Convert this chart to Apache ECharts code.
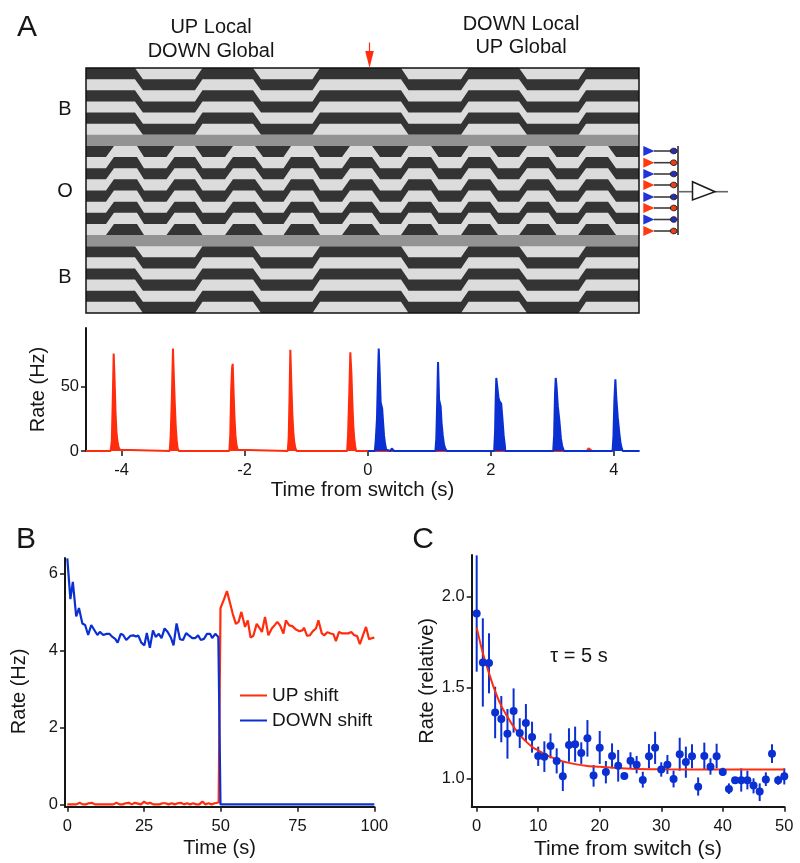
<!DOCTYPE html>
<html><head><meta charset="utf-8">
<style>html,body{margin:0;padding:0;background:#fff}#c{width:800px;height:863px}</style>
<script src="https://cdn.jsdelivr.net/npm/echarts@6/dist/echarts.min.js"></script>
</head><body><div id="c"></div>
<script>
// ---------- Panel A stimulus: times (s) where the stripes begin/end a shift ----------
const globalRamps=[-3.784,-3.654,-2.808,-2.686,-1.865,-1.735,-0.898,-0.776,0.541,0.663,1.517,1.639,2.460,2.590,3.428,3.550];
const localRamps=[-4.255,-4.125,-3.751,-3.637,-3.271,-3.141,-2.808,-2.686,-2.320,-2.190,-1.833,-1.702,-1.369,-1.247,-0.889,-0.776,-0.418,-0.288,0.070,0.200,0.541,0.663,1.029,1.151,1.517,1.639,1.989,2.119,2.460,2.590,2.940,3.070,3.420,3.550,3.907,4.037];
const timeMin=-4.58, timeMax=4.41;
// row ranges of the stimulus zones and the shift direction of each
const zoneFrom=[0,7,16], zoneTo=[6,15,22], zoneDir=[1,-1,1];
const grayFrom=[6,15];
// ---------- Panel A firing rate: [time, rate] ----------
const spikeRed=[[-4.58,0],[-4.18,0],[-4.16,8],[-4.145,40],[-4.13,76],[-4.115,55],[-4.10,30],[-4.085,15],[-4.07,8],[-4.05,3],[-4.03,1],[-4.00,0],
[-3.22,0],[-3.205,10],[-3.185,40],[-3.166,80],[-3.15,55],[-3.135,35],[-3.12,18],[-3.105,8],[-3.09,2],[-3.07,0],
[-2.25,0],[-2.235,12],[-2.22,48],[-2.205,65],[-2.195,68],[-2.18,45],[-2.165,25],[-2.15,12],[-2.135,5],[-2.115,1],[-2.10,0],
[-1.30,0],[-1.285,10],[-1.27,45],[-1.258,79],[-1.24,50],[-1.225,28],[-1.21,15],[-1.195,7],[-1.175,2],[-1.155,0],
[-0.335,0],[-0.32,12],[-0.30,45],[-0.283,77],[-0.265,60],[-0.25,38],[-0.235,20],[-0.22,10],[-0.205,4],[-0.19,0],
[3.56,0],[3.59,2],[3.62,2],[3.65,0],[3.7,0]];
const spikeBlue=[[0,0],[0.115,0],[0.13,8],[0.15,25],[0.165,55],[0.179,80],[0.195,60],[0.21,38],[0.235,33],[0.25,22],[0.265,12],[0.28,6],[0.30,1],[0.32,0],[0.375,0],[0.39,2],[0.41,2],[0.43,0],
[1.10,0],[1.115,10],[1.13,40],[1.143,69.5],[1.16,40],[1.185,35],[1.20,22],[1.22,12],[1.24,5],[1.26,2],[1.285,0],
[2.055,0],[2.07,15],[2.08,40],[2.09,57],[2.10,56],[2.125,42],[2.14,39],[2.17,37],[2.19,25],[2.21,12],[2.23,4],[2.235,0],
[3.015,0],[3.03,12],[3.045,45],[3.056,57],[3.07,50],[3.09,35],[3.115,24],[3.125,23],[3.14,10],[3.16,4],[3.19,0],
[3.98,0],[3.995,12],[4.01,40],[4.026,56],[4.04,42],[4.065,26],[4.09,14],[4.11,6],[4.13,2],[4.145,0],[4.42,0]];
// ---------- Panel B ----------
const upFirstHalf=[[0,0],[3,0],[4,.04],[5,0],[6,0],[7,.03],[8,.04],[9,0],[15,0],[16,.04],[17,0],[18,0],[19,.03],[20,.04],[21,0],[22,.04],[23,.02],[24,0],[25,.07],[26,.02],[27,.04],[28,0],[30,0],[31,.03],[32,.03],[33,0],[34,.03],[35,0],[36,.03],[37,.04],[38,0],[39,.03],[40,0],[41,.03],[42,0],[43,0],[44,.07],[45,0],[46,.03],[47,0],[48,.03],[49.3,.05]];
const upSecondHalf=[[49.9,5.1],[51,5.32],[52,5.54],[53,5.23],[53.9,4.95],[54.9,4.69],[55.8,4.74],[56.7,5.0],[57.9,4.61],[58.8,4.78],[59.7,4.33],[60.6,4.38],[61.7,4.69],[62.7,4.57],[63.4,4.48],[64.4,4.87],[65.5,4.39],[66.6,4.57],[67.7,4.67],[68.4,4.74],[69.3,4.65],[70.4,4.44],[71.2,4.78],[72.3,4.65],[73.3,4.63],[74.5,4.54],[75.6,4.50],[76.6,4.52],[77.1,4.59],[78.1,4.38],[79,4.39],[80,4.5],[81,4.57],[81.8,4.78],[82.9,4.44],[83.7,4.39],[84.7,4.47],[85.8,4.44],[86.7,4.42],[87.5,4.24],[88.5,4.48],[89.5,4.44],[90.5,4.44],[91.5,4.44],[92.5,4.48],[93.4,4.40],[94.4,4.37],[95.3,4.16],[96.3,4.39],[97.3,4.61],[98.3,4.29],[99.3,4.32],[100,4.33]];
const downFirstHalf=[[0,6.39],[1,5.33],[1.8,5.78],[2.9,4.88],[3.8,5.1],[4.9,4.7],[5.8,4.66],[6.8,4.4],[7.8,4.66],[8.8,4.53],[9.8,4.4],[10.6,4.48],[11.7,4.4],[12.8,4.43],[13.7,4.43],[14.7,4.35],[15.6,4.3],[16.4,4.2],[17.4,4.43],[18.2,4.4],[19.2,4.27],[20.6,4.38],[21.5,4.39],[22.4,4.36],[23.1,4.39],[24.1,4.2],[25.1,4.13],[25.9,4.45],[26.9,4.07],[27.9,4.52],[28.8,4.35],[29.8,4.43],[30.7,4.32],[31.7,4.57],[32.7,4.48],[33.8,4.32],[34.6,4.13],[35.6,4.7],[36.7,4.29],[37.7,4.27],[38.7,4.45],[39.6,4.39],[40.7,4.32],[41.7,4.32],[42.6,4.39],[43.5,4.27],[44.5,4.3],[45.5,4.43],[46.5,4.43],[47.2,4.32],[48.2,4.43],[49.2,4.35]];
const downSecondHalf=[[49.9,0],[61,0],[61.5,.05],[62,0],[100,0]];
// ---------- Panel C: mean, lower, upper at each second ----------
const cMean=[1.907,1.639,1.636,1.364,1.328,1.247,1.372,1.251,1.306,1.229,1.125,1.121,1.179,1.097,1.013,1.185,1.189,1.141,1.222,1.018,1.170,1.037,1.125,1.071,1.015,1.099,1.077,0.993,1.123,1.170,1.051,1.077,0.998,1.134,1.092,1.123,0.956,1.125,1.066,1.123,1.037,0.943,0.991,0.991,0.991,0.962,0.929,0.996,1.137,0.991,1.013];
const cLow=[1.588,1.396,1.469,1.222,1.2,1.11,1.253,1.168,1.203,1.143,1.07,1.037,1.112,1.029,0.932,1.093,1.093,1.081,1.121,0.956,1.081,0.974,1.057,0.984,1.0,1.053,1.029,0.951,1.057,1.081,1.011,1.026,0.952,1.044,1.005,1.057,0.907,1.051,1.022,1.057,1.015,0.916,0.98,0.929,0.941,0.919,0.877,0.96,1.086,0.966,0.968];
const cHigh=[2.227,1.881,1.799,1.505,1.454,1.383,1.496,1.332,1.41,1.313,1.176,1.205,1.249,1.167,1.093,1.277,1.286,1.2,1.322,1.075,1.262,1.097,1.194,1.158,1.03,1.145,1.125,1.038,1.19,1.258,1.09,1.13,1.044,1.225,1.176,1.189,1.007,1.198,1.112,1.192,1.06,0.974,1.0,1.057,1.044,1.002,0.974,1.035,1.189,1.016,1.057];
const fitCurve=[[0,1.83],[1,1.69],[2,1.58],[3,1.48],[4,1.40],[5,1.34],[6,1.285],[7,1.24],[8,1.205],[9,1.175],[10,1.155],[12,1.12],[14,1.095],[16,1.08],[18,1.07],[20,1.065],[25,1.055],[30,1.052],[40,1.05],[50,1.05]];
// ---------- Ticks ----------
const rateATimeTicks=[-4,-2,0,2,4], rateATicks=[0,50];
const bTimeTicks=[0,25,50,75,100], bRateTicks=[0,2,4,6];
const cTimeTicks=[0,10,20,30,40,50], cRateTicks=[1.0,1.5,2.0];

const FONT='"Liberation Sans", Arial, sans-serif', INK='#161616', RED='#ff2d0d', BLUE='#0b30d2';
const DARK='#343434', LIGHT='#dcdcdc', GRAY='#939393';

function axisBits(ticks,fmt,labelMargin){return{
  axisLine:{show:true,onZero:false,lineStyle:{color:INK,width:2}},
  axisTick:{show:true,length:5,customValues:ticks,lineStyle:{color:INK,width:1.5}},
  axisLabel:{show:true,customValues:ticks,fontFamily:FONT,fontSize:16.5,color:INK,margin:labelMargin,formatter:fmt||(v=>String(v))},
  splitLine:{show:false}};}
function nameStyle(extra){return Object.assign({fontFamily:FONT,fontSize:20,color:INK},extra||{});}

// stripes: each dark band follows the ramp list of its zone
function bandItem(params,api){
  const zone=api.value(0), k=api.value(1);
  const ramps=zone===1?localRamps:globalRamps, dir=zoneDir[zone], z0=zoneFrom[zone], z1=zoneTo[zone];
  const off=[[timeMin,0]];
  ramps.forEach((t,i)=>{const phase=Math.floor(i/2)%2, start=phase===0?0:dir, end=phase===0?dir:0;off.push([t,i%2===0?start:end]);});
  off.push([timeMax,off[off.length-1][1]]);
  const cl=y=>Math.min(z1,Math.max(z0,y));
  const top=off.map(p=>api.coord([p[0],cl(z0+k+p[1])]));
  const bot=off.slice().reverse().map(p=>api.coord([p[0],cl(z0+k+1+p[1])]));
  return{type:'polygon',shape:{points:top.concat(bot)},style:{fill:DARK}};
}
const bandData=[];
zoneFrom.forEach((z,i)=>{for(let k=-2;k<=zoneTo[i]-z+2;k+=2)bandData.push([i,k]);});

// schematic on the right of the stimulus
const unitY=[151,162.7,174,185,197,208,219.5,231];
const schem=[];
const ln=(x1,y1,x2,y2,c,w)=>({type:'line',shape:{x1,y1,x2,y2},style:{stroke:c||'#444',lineWidth:w||2},z:20});
unitY.forEach((y,i)=>{
  const col=i%2?'#ff3a10':'#2233d8';
  schem.push(ln(654,y,674,y,'#3c3c3c',1.6));
  schem.push({type:'polygon',shape:{points:[[643.3,y-5],[643.3,y+5],[654.5,y]]},style:{fill:col},z:21});
  schem.push({type:'ellipse',shape:{cx:673.7,cy:y,rx:3.4,ry:2.8},style:{fill:i%2?'#f03a10':'#2a2ab8',stroke:'#222',lineWidth:1},z:22});
});
schem.push(ln(678,146,678,235,'#444',1.8));
schem.push(ln(678,191.7,692.5,191.7,'#666',1.6));
schem.push(ln(715,191.7,728,191.7,'#666',1.6));
schem.push({type:'polygon',shape:{points:[[692.5,181.7],[692.5,200],[715,191.7]]},style:{fill:'#fff',stroke:'#1a1a1a',lineWidth:1.5},z:21});
// frame & arrow
schem.push({type:'rect',shape:{x:86,y:68,width:553,height:245},style:{fill:'none',stroke:'#111',lineWidth:1.5},z:30});
schem.push(ln(369.5,42.5,369.5,53,RED,1.2));
schem.push({type:'polygon',shape:{points:[[365.2,51],[373.8,51],[369.5,68]]},style:{fill:RED},z:31});

function txt(t,x,y,size,align){return{type:'text',x,y,z:40,style:{text:t,fontFamily:FONT,fontSize:size,fill:INK,textAlign:align||'center',textVerticalAlign:'middle'}};}
const texts=[
 txt('A',27,28,30), txt('B',26,540,30), txt('C',423,540,30),
 txt('UP Local',211,27,20), txt('DOWN Global',211,51,20),
 txt('DOWN Local',521,24,20), txt('UP Global',521,47,20),
 txt('B',65,109,20), txt('O',65,191,20), txt('B',65,277,20),
 txt('\u03c4 = 5 s',579,656,20)
];

const chart=echarts.init(document.getElementById('c'));
chart.setOption({
 animation:false,backgroundColor:'#fff',
 textStyle:{fontFamily:FONT},
 grid:[
  {left:86,top:68,width:553,height:245,show:true,backgroundColor:LIGHT,borderWidth:0},
  {left:86,top:328,width:553,height:123},
  {left:65,top:558,width:309.3,height:248.7},
  {left:471.7,top:555,width:312.6,height:251.7}
 ],
 xAxis:[
  {gridIndex:0,type:'value',min:timeMin,max:timeMax,show:false},
  Object.assign({gridIndex:1,type:'value',min:timeMin,max:timeMax,name:'Time from switch (s)',nameLocation:'middle',nameGap:29,nameTextStyle:nameStyle({fontSize:20.5})},axisBits(rateATimeTicks,null,11),{axisLine:{show:false,onZero:false}}),
  Object.assign({gridIndex:2,type:'value',min:-0.75,max:100,name:'Time (s)',nameLocation:'middle',nameGap:32,nameTextStyle:nameStyle()},axisBits(bTimeTicks,null,11)),
  Object.assign({gridIndex:3,type:'value',min:-0.81,max:50,name:'Time from switch (s)',nameLocation:'middle',nameGap:32,nameTextStyle:nameStyle({fontSize:21})},axisBits(cTimeTicks,null,11))
 ],
 yAxis:[
  {gridIndex:0,type:'value',min:0,max:22,inverse:true,show:false},
  Object.assign({gridIndex:1,type:'value',min:0,max:96,name:'Rate (Hz)',nameLocation:'middle',nameGap:38,nameTextStyle:nameStyle()},axisBits(rateATicks,null,7)),
  Object.assign({gridIndex:2,type:'value',min:-0.06,max:6.4,name:'Rate (Hz)',nameLocation:'middle',nameGap:36,nameTextStyle:nameStyle({padding:[0,18,0,0]})},axisBits(bRateTicks,null,7)),
  Object.assign({gridIndex:3,type:'value',min:0.846,max:2.229,name:'Rate (relative)',nameLocation:'middle',nameGap:33,nameTextStyle:nameStyle()},axisBits(cRateTicks,v=>v.toFixed(1),7))
 ],
 legend:{left:235,top:681,orient:'vertical',itemWidth:27,itemHeight:2,itemGap:6,icon:'rect',
  textStyle:{fontFamily:FONT,fontSize:19,color:INK},data:['UP shift','DOWN shift'],selectedMode:false},
 series:[
  {type:'custom',xAxisIndex:0,yAxisIndex:0,clip:false,silent:true,renderItem:bandItem,data:bandData,z:2},
  {type:'custom',xAxisIndex:0,yAxisIndex:0,clip:false,silent:true,z:3,data:grayFrom.map(r=>[r]),
   renderItem:(p,api)=>{const r=api.value(0),a=api.coord([timeMin,r]),b=api.coord([timeMax,r+1]);
     return{type:'rect',shape:{x:a[0],y:a[1],width:b[0]-a[0],height:b[1]-a[1]},style:{fill:GRAY}};}},
  {name:'rate up',type:'line',xAxisIndex:1,yAxisIndex:1,data:spikeRed,showSymbol:false,clip:false,
   lineStyle:{color:RED,width:2},itemStyle:{color:RED},areaStyle:{color:RED,opacity:1},z:3},
  {name:'rate down',type:'line',xAxisIndex:1,yAxisIndex:1,data:spikeBlue,showSymbol:false,clip:false,
   lineStyle:{color:BLUE,width:2},itemStyle:{color:BLUE},areaStyle:{color:BLUE,opacity:1},z:4},
  {name:'UP shift',type:'line',xAxisIndex:2,yAxisIndex:2,data:upFirstHalf.concat(upSecondHalf),showSymbol:false,clip:true,
   lineStyle:{color:RED,width:2.2},itemStyle:{color:RED},z:3},
  {name:'DOWN shift',type:'line',xAxisIndex:2,yAxisIndex:2,data:downFirstHalf.concat(downSecondHalf),showSymbol:false,clip:true,
   lineStyle:{color:BLUE,width:2.2},itemStyle:{color:BLUE},z:4},
  {name:'fit',type:'line',xAxisIndex:3,yAxisIndex:3,data:fitCurve,smooth:0.3,showSymbol:false,lineStyle:{color:RED,width:2},itemStyle:{color:RED},z:5},
  {name:'sem',type:'custom',xAxisIndex:3,yAxisIndex:3,clip:false,silent:true,z:3,
   data:cMean.map((m,i)=>[i,cLow[i],cHigh[i]]),
   renderItem:(p,api)=>{const a=api.coord([api.value(0),api.value(1)]),b=api.coord([api.value(0),api.value(2)]);
     return{type:'line',shape:{x1:a[0],y1:a[1],x2:b[0],y2:b[1]},style:{stroke:BLUE,lineWidth:2}};}},
  {name:'mean',type:'scatter',xAxisIndex:3,yAxisIndex:3,clip:false,symbolSize:8,data:cMean.map((m,i)=>[i,m]),itemStyle:{color:BLUE,opacity:1},z:6}
 ],
 graphic:schem.concat(texts)
});
</script></body></html>
